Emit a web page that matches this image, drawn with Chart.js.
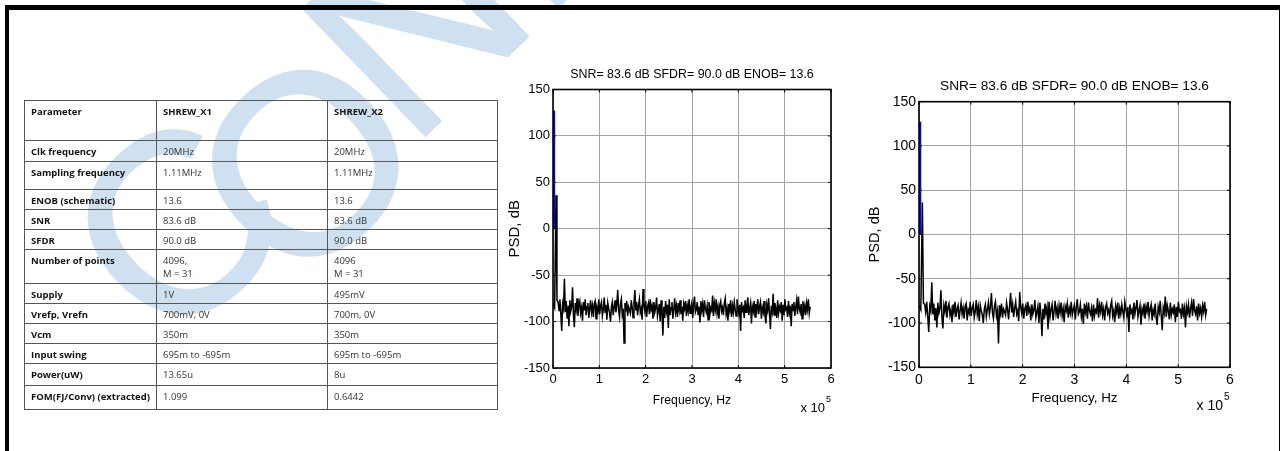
<!DOCTYPE html>
<html>
<head>
<meta charset="utf-8">
<script src="https://cdn.jsdelivr.net/npm/chart.js@4.4.0/dist/chart.umd.min.js"></script>
<style>
  html, body { margin: 0; padding: 0; background: #fff; }
  body { width: 1282px; height: 451px; position: relative; overflow: hidden; }
  #wm { position: absolute; left: 0; top: 0; z-index: 0; }
  #frame { position: absolute; left: 5px; top: 5px; width: 1270px; height: 470px;
           border-top: 5px solid #000; border-left: 4px solid #000; border-right: 1.5px solid #000; z-index: 5; }
  #tbl { position: absolute; left: 0; top: 0; z-index: 2; font-family: "Open Sans", sans-serif;
         font-size: 9.5px; line-height: 13.4px; color: #333; }
  .cell { position: absolute; box-sizing: border-box; border-top: 1px solid #555; border-left: 1px solid #555;
          padding: 4px 0 0 6px; white-space: pre-line; }
  .cell.p { font-weight: bold; color: #111; }
  .cell.h { font-weight: bold; color: #111; }
  canvas.chart { position: absolute; z-index: 3; }
</style>
</head>
<body>
<canvas id="wm" width="1282" height="451"></canvas>
<div id="frame"></div>
<div id="tbl"></div>
<canvas id="psd1" class="chart" width="360" height="370" style="left:490px;top:55px"></canvas>
<canvas id="psd2" class="chart" width="410" height="370" style="left:850px;top:55px"></canvas>
<script>
// ---- data ----
const freqTicks = [0, 1, 2, 3, 4, 5, 6];          // x 10^5 Hz
const psdTicks = [-150, -100, -50, 0, 50, 100, 150]; // dB
const titleText = 'SNR= 83.6 dB SFDR= 90.0 dB ENOB= 13.6';

// signal bin (blue)
const signalHz = [1500, 1500];
const signalDb = [0, 127.3];

// first bins of the black trace, incl. the 36 dB spur
const spurHz = [0, 3500, 6500, 8500];
const spurDb = [-80, -85, 36, -77];

// noise floor, one value per bin from noiseStartHz in steps of noiseStepHz
const noiseStartHz = 11000;
const noiseStepHz = 1950;
const noiseDb = [
  -79, -88, -76, -92, -110, -81, -86, -54, -90, -78, -97, -83, -105, -77, -89, -84, -63, -93, -106, -80,
  -87, -75, -94, -82, -78, -91, -85, -99, -79, -88, -76, -93, -84, -80, -96, -86, -77, -90, -83, -95,
  -81, -78, -97, -85, -89, -76, -92, -83, -79, -94, -87, -74, -90, -82, -98, -80, -86, -91, -100, -84,
  -79, -93, -85, -77, -90, -82, -66, -88, -95, -81, -76, -92, -86, -123, -80, -89, -78, -94, -84, -87,
  -91, -77, -85, -96, -80, -66, -88, -79, -93, -83, -76, -90, -86, -98, -65, -82, -89, -78, -95, -84,
  -80, -92, -76, -87, -83, -97, -79, -90, -85, -74, -94, -88, -81, -100, -77, -91, -115, -84, -96, -78,
  -89, -82, -107, -76, -93, -85, -79, -97, -87, -75, -90, -83, -95, -80, -88, -77, -92, -84, -99, -81,
  -86, -78, -94, -83, -89, -76, -91, -85, -80, -96, -82, -73, -90, -87, -79, -93, -84, -101, -78, -88,
  -81, -95, -77, -86, -90, -83, -98, -79, -92, -85, -88, -72, -94, -80, -87, -76, -91, -84, -97, -82,
  -78, -89, -85, -93, -80, -75, -92, -86, -99, -81, -88, -77, -95, -83, -90, -79, -87, -94, -76, -84,
  -91, -82, -110, -79, -88, -85, -96, -77, -90, -83, -74, -93, -86, -80, -102, -84, -89, -78, -95, -81,
  -87, -76, -92, -84, -79, -97, -85, -90, -78, -94, -102, -82, -88, -75, -91, -108, -83, -89, -70, -93,
  -80, -86, -96, -77, -91, -84, -88, -79, -99, -82, -93, -76, -87, -85, -95, -78, -90, -83, -105, -81,
  -88, -79, -94, -84, -77, -92, -73, -86, -90, -81, -97, -78, -89, -83, -93, -80, -87, -76, -91, -84
];

// ---- table ----
const tableRows = [
  ['Parameter', 'SHREW_X1', 'SHREW_X2'],
  ['Clk frequency', '20MHz', '20MHz'],
  ['Sampling frequency', '1.11MHz', '1.11MHz'],
  ['ENOB (schematic)', '13.6', '13.6'],
  ['SNR', '83.6 dB', '83.6 dB'],
  ['SFDR', '90.0 dB', '90.0 dB'],
  ['Number of points', '4096,\nM = 31', '4096\nM = 31'],
  ['Supply', '1V', '495mV'],
  ['Vrefp, Vrefn', '700mV, 0V', '700m, 0V'],
  ['Vcm', '350m', '350m'],
  ['Input swing', '695m to -695m', '695m to -695m'],
  ['Power(uW)', '13.65u', '8u'],
  ['FOM(FJ/Conv) (extracted)', '1.099', '0.6442']
];

const rowEdges = [99.5, 140, 161, 189, 208.5, 228.5, 248.5, 282.5, 302.5, 322.5, 342.5, 363, 385, 409];
const colEdges = [24, 156, 327, 497];
const tbl = document.getElementById('tbl');
tableRows.forEach((row, r) => {
  row.forEach((txt, c) => {
    const d = document.createElement('div');
    d.className = 'cell' + (c === 0 ? ' p' : '') + (r === 0 ? ' h' : '');
    d.style.left = colEdges[c] + 'px';
    d.style.top = rowEdges[r] + 'px';
    d.style.width = (colEdges[c + 1] - colEdges[c] + 1) + 'px';
    d.style.height = (rowEdges[r + 1] - rowEdges[r] + 1) + 'px';
    if (c === 2) d.style.borderRight = '1px solid #555';
    if (r === tableRows.length - 1) d.style.borderBottom = '1px solid #555';
    d.textContent = txt;
    tbl.appendChild(d);
  });
});

// ---- watermark ----
const wm = document.getElementById('wm').getContext('2d');
wm.fillStyle = '#cfe0f1';
wm.strokeStyle = '#cfe0f1';
wm.lineWidth = 2;
wm.lineJoin = 'round';
wm.font = '256px "Liberation Sans"';
wm.translate(134, 417);
wm.rotate(-44 * Math.PI / 180);
[['C', 70, -20], ['O', 200, 25], ['N', 384, 0], ['FIDENTIAL', 569, 0]].forEach(([t, u, v]) => {
  wm.fillText(t, u, v);
  wm.strokeText(t, u, v);
});

// ---- charts ----
Chart.defaults.font.family = '"Liberation Sans", Arial, sans-serif';
Chart.defaults.color = '#000';

const signalPts = signalHz.map((f, i) => ({ x: f, y: signalDb[i] }));
const tracePts = spurHz.map((f, i) => ({ x: f, y: spurDb[i] }))
  .concat(noiseDb.map((v, i) => ({ x: noiseStartHz + i * noiseStepHz, y: v })));

const boxPlugin = {
  id: 'box',
  afterDraw(chart, args, opts) {
    const { ctx, chartArea: a, scales } = chart;
    ctx.save();
    ctx.strokeStyle = '#000';
    ctx.lineWidth = 1;
    ctx.beginPath();
    scales.x.ticks.forEach(t => {
      const px = scales.x.getPixelForValue(t.value);
      ctx.moveTo(px, a.top); ctx.lineTo(px, a.top + 3);
      ctx.moveTo(px, a.bottom); ctx.lineTo(px, a.bottom - 3);
    });
    scales.y.ticks.forEach(t => {
      const py = scales.y.getPixelForValue(t.value);
      ctx.moveTo(a.left, py); ctx.lineTo(a.left + 3, py);
      ctx.moveTo(a.right, py); ctx.lineTo(a.right - 3, py);
    });
    ctx.stroke();
    ctx.lineWidth = 1.6;
    ctx.strokeRect(a.left, a.top, a.right - a.left, a.bottom - a.top);
    ctx.fillStyle = '#000';
    ctx.textAlign = 'right';
    ctx.textBaseline = 'alphabetic';
    ctx.font = opts.size + 'px "Liberation Sans"';
    ctx.fillText('x 10', a.right - opts.dx, a.bottom + opts.dy);
    ctx.textAlign = 'left';
    ctx.font = Math.round(opts.size * 0.7) + 'px "Liberation Sans"';
    ctx.fillText('5', a.right - opts.dx + 1, a.bottom + opts.dy - 10);
    ctx.restore();
  }
};

function makeChart(id, cfg) {
  const fontSize = cfg.size;
  const lh = cfg.titleSize * 1.2;
  return new Chart(document.getElementById(id), {
    type: 'line',
    data: {
      datasets: [
        { data: signalPts, borderColor: '#0000ff', borderWidth: 3, pointRadius: 0, tension: 0 },
        { data: tracePts, borderColor: '#000000', borderWidth: 1.5, pointRadius: 0, tension: 0 }
      ]
    },
    options: {
      responsive: false,
      animation: false,
      events: [],
      layout: { padding: { left: 0, right: cfg.padRight, top: 0, bottom: 0 } },
      plugins: {
        legend: { display: false },
        tooltip: { enabled: false },
        title: {
          display: true, text: titleText, fullSize: false, color: '#000',
          font: { size: cfg.titleSize, weight: 'normal' },
          padding: { top: cfg.titleY - lh / 2, bottom: cfg.areaTop - cfg.titleY - lh / 2 }
        },
        box: { size: fontSize, dx: cfg.expDx, dy: cfg.expDy }
      },
      scales: {
        x: {
          type: 'linear', min: freqTicks[0] * 1e5, max: freqTicks[freqTicks.length - 1] * 1e5,
          afterBuildTicks: s => { s.ticks = freqTicks.map(v => ({ value: v * 1e5 })); },
          afterFit: s => { s.height = cfg.xHeight; },
          ticks: { callback: v => v / 1e5, font: { size: fontSize }, padding: 4, maxRotation: 0, autoSkip: false },
          grid: { color: '#a3a3a3', lineWidth: 1, drawTicks: false },
          border: { display: false },
          title: { display: true, text: 'Frequency, Hz', font: { size: cfg.xTitleSize }, padding: { top: 0, bottom: cfg.xTitlePad } }
        },
        y: {
          min: psdTicks[0], max: psdTicks[psdTicks.length - 1],
          afterBuildTicks: s => { s.ticks = psdTicks.map(v => ({ value: v })); },
          afterFit: s => { s.width = cfg.yWidth; },
          ticks: { font: { size: fontSize }, padding: 3, autoSkip: false },
          grid: { color: '#a3a3a3', lineWidth: 1, drawTicks: false },
          border: { display: false },
          title: { display: true, text: 'PSD, dB', font: { size: cfg.yTitleSize }, padding: { top: cfg.yTitlePad, bottom: 0 } }
        }
      }
    },
    plugins: [boxPlugin]
  });
}

makeChart('psd1', { size: 13, titleSize: 12.4, xTitleSize: 12.2, yTitleSize: 15, padRight: 19, yWidth: 63, xHeight: 57,
                    titleY: 19.5, areaTop: 34.5, yTitlePad: 16, xTitlePad: 17.5, expDx: 6, expDy: 44 });
makeChart('psd2', { size: 14, titleSize: 13.7, xTitleSize: 13.4, yTitleSize: 14.6, padRight: 30, yWidth: 69, xHeight: 57.7,
                    titleY: 31, areaTop: 46.7, yTitlePad: 16.2, xTitlePad: 18.6, expDx: 7, expDy: 43 });
</script>
</body>
</html>
